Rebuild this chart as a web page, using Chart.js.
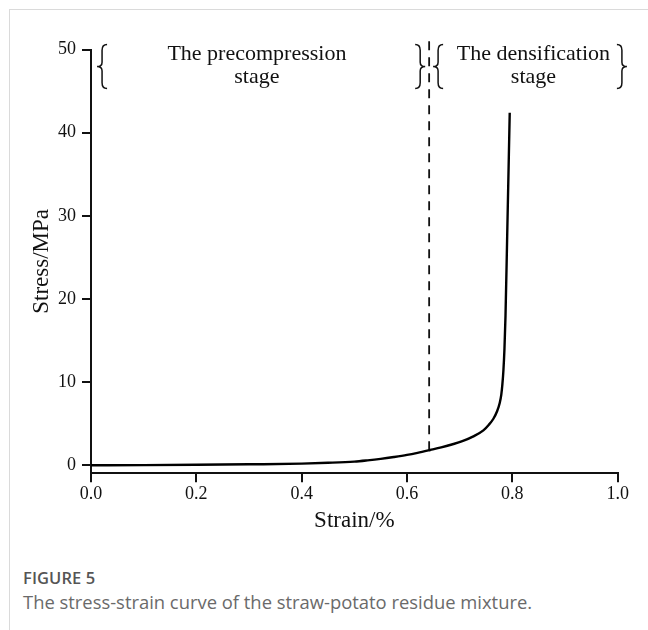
<!DOCTYPE html>
<html>
<head>
<meta charset="utf-8">
<script src="https://cdn.jsdelivr.net/npm/chart.js@4/dist/chart.umd.min.js"></script>
<style>
  html, body { margin: 0; padding: 0; background: #fff; }
  body { width: 648px; height: 630px; position: relative; overflow: hidden; }
  #frame { position: absolute; left: 9px; top: 9px; width: 639px; height: 621px;
           border-left: 1.5px solid #dadada; border-top: 1.5px solid #dadada; box-sizing: border-box; }
  #wrap { position: absolute; left: 0; top: 0; width: 648px; height: 560px; }
  #cap1 { position: absolute; left: 23px; top: 566px; font-family: 'Open Sans', sans-serif;
          font-size: 16.5px; font-weight: 600; color: #555; letter-spacing: 0.1px; }
  #cap2 { position: absolute; left: 23px; top: 589px; font-family: 'Open Sans', sans-serif;
          font-size: 18.4px; color: #6a6a6a; }
</style>
</head>
<body>
<div id="frame"></div>
<div id="wrap"><canvas id="c" width="648" height="560"></canvas></div>
<div id="cap1">FIGURE 5</div>
<div id="cap2">The stress-strain curve of the straw-potato residue mixture.</div>
<script>
// ---- data ----
const strain = [0, 0.1, 0.2, 0.3, 0.4, 0.45, 0.5, 0.525, 0.55, 0.575, 0.6, 0.62, 0.644, 0.665, 0.685, 0.705, 0.725, 0.745, 0.755, 0.764, 0.771, 0.776, 0.779, 0.781, 0.783, 0.785, 0.787, 0.79, 0.795];
const stress = [0, 0.02, 0.06, 0.12, 0.2, 0.3, 0.45, 0.6, 0.78, 1.0, 1.25, 1.5, 1.84, 2.15, 2.5, 2.9, 3.45, 4.2, 4.85, 5.6, 6.5, 7.5, 8.5, 9.7, 11.4, 14, 18, 27, 42.4];
const boundaryStrain = 0.642;
const boundaryStress = [1.8, 51.4];
const xTicks = [0, 0.2, 0.4, 0.6, 0.8, 1.0];
const yTicks = [0, 10, 20, 30, 40, 50];
const stageLabels = [
  { lines: ['The precompression', 'stage'], x: 0.315, braces: [0.021, 0.625] },
  { lines: ['The densification', 'stage'], x: 0.84, braces: [0.659, 1.008] }
];
const labelLineStress = [48.7, 46.0];
const braceStress = [50.6, 45.3];

const curve = strain.map((s, i) => ({ x: s, y: stress[i] }));
const dashLine = boundaryStress.map(v => ({ x: boundaryStrain, y: v }));

const serif = "'Liberation Serif', 'Times New Roman', serif";

function drawBrace(ctx, cx, top, bottom, dir) {
  // dir = 1 for '{', -1 for '}'
  const w = 5 * dir;
  const h = bottom - top;
  const cy = (top + bottom) / 2;
  ctx.beginPath();
  ctx.moveTo(cx + w, top);
  ctx.quadraticCurveTo(cx, top, cx, top + h * 0.13);
  ctx.lineTo(cx, cy - h * 0.1);
  ctx.quadraticCurveTo(cx, cy, cx - w, cy);
  ctx.quadraticCurveTo(cx, cy, cx, cy + h * 0.1);
  ctx.lineTo(cx, bottom - h * 0.13);
  ctx.quadraticCurveTo(cx, bottom, cx + w, bottom);
  ctx.stroke();
}

const annot = {
  id: 'annot',
  afterDatasetsDraw(chart) {
    const { ctx, scales: { x, y } } = chart;
    ctx.save();
    ctx.fillStyle = '#111';
    ctx.strokeStyle = '#111';
    ctx.lineWidth = 1.5;
    ctx.font = '22px ' + serif;
    ctx.textAlign = 'center';
    ctx.textBaseline = 'alphabetic';
    stageLabels.forEach(st => {
      st.lines.forEach((t, i) => {
        ctx.fillText(t, x.getPixelForValue(st.x), y.getPixelForValue(labelLineStress[i]));
      });
      const top = y.getPixelForValue(braceStress[0]);
      const bot = y.getPixelForValue(braceStress[1]);
      drawBrace(ctx, x.getPixelForValue(st.braces[0]), top, bot, 1);
      drawBrace(ctx, x.getPixelForValue(st.braces[1]), top, bot, -1);
    });
    ctx.restore();
  }
};

new Chart(document.getElementById('c'), {
  type: 'line',
  data: {
    datasets: [
      { data: curve, borderColor: '#000', borderWidth: 2.4, pointRadius: 0,
        cubicInterpolationMode: 'monotone', fill: false },
      { data: dashLine, borderColor: '#111', borderWidth: 1.8, borderDash: [9, 7],
        pointRadius: 0, fill: false, clip: false }
    ]
  },
  options: {
    responsive: false,
    animation: false,
    devicePixelRatio: 1,
    layout: { padding: { left: 0, top: 49.5, right: 30.3, bottom: 0 } },
    plugins: { legend: { display: false }, tooltip: { enabled: false } },
    scales: {
      x: {
        type: 'linear', min: 0, max: 1,
        afterFit(s) { s.height = 86.7; },
        afterBuildTicks(s) { s.ticks = xTicks.map(v => ({ value: v })); },
        border: { display: true, color: '#111', width: 2 },
        grid: { display: true, drawOnChartArea: false, drawTicks: true, tickLength: 9, color: '#111', lineWidth: 2 },
        ticks: { color: '#111', padding: 1, maxRotation: 0, autoSkip: false,
                 font: { family: serif, size: 18 },
                 callback: v => Number(v).toFixed(1) },
        title: { display: true, text: 'Strain/%', color: '#111',
                 font: { family: serif, size: 23 }, padding: { top: 0, bottom: 25 } }
      },
      y: {
        type: 'linear', min: -0.96, max: 50,
        afterFit(s) { s.width = 91; },
        afterBuildTicks(s) { s.ticks = yTicks.map(v => ({ value: v })); },
        border: { display: true, color: '#111', width: 2 },
        grid: { display: true, drawOnChartArea: false, drawTicks: true, tickLength: 9, color: '#111', lineWidth: 2 },
        ticks: { color: '#111', padding: 6, autoSkip: false,
                 font: { family: serif, size: 18 } },
        title: { display: true, text: 'Stress/MPa', color: '#111',
                 font: { family: serif, size: 23 }, padding: { top: 28, bottom: 0 } }
      }
    }
  },
  plugins: [annot]
});
</script>
</body>
</html>
